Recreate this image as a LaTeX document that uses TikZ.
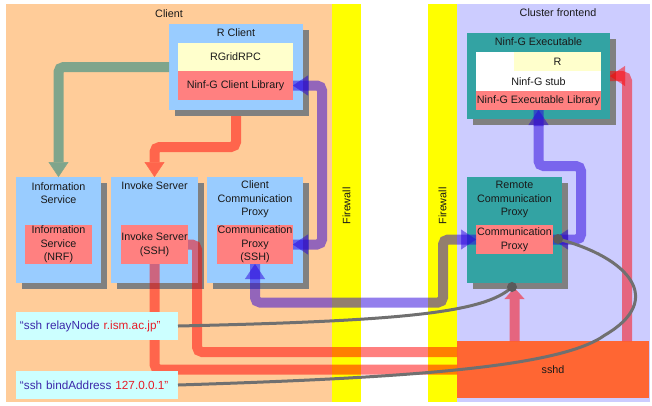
\documentclass[tikz,border=0pt]{standalone}
\usepackage{fontspec}
\setmainfont{Liberation Sans}
\usetikzlibrary{arrows.meta,shadows,calc}
\definecolor{peach}{RGB}{255,204,153}
\definecolor{fwyellow}{RGB}{255,255,0}
\definecolor{lav}{RGB}{204,204,255}
\definecolor{boxblue}{RGB}{153,204,255}
\definecolor{libred}{RGB}{255,128,128}
\definecolor{rpcyellow}{RGB}{255,255,204}
\definecolor{tealbox}{RGB}{51,163,163}
\definecolor{shadowgray}{RGB}{128,128,128}
\definecolor{sshdorange}{RGB}{255,102,51}
\definecolor{calloutcyan}{RGB}{204,255,255}
\definecolor{txtblue}{RGB}{60,40,170}
\definecolor{txtred}{RGB}{230,30,40}
\definecolor{flowblue}{RGB}{40,0,220}
\definecolor{flowgreen}{RGB}{0,128,128}
\definecolor{curvegray}{RGB}{112,112,112}
\definecolor{dotgray}{RGB}{90,90,90}
\definecolor{txt}{RGB}{25,25,25}
\tikzset{
  every node/.style={inner sep=0pt, outer sep=0pt, text=txt,
    font=\fontsize{10.8}{13.5}\selectfont},
  shadowed/.style={drop shadow={shadow xshift=6bp, shadow yshift=-6bp,
    fill=shadowgray, opacity=1}},
  outerbox/.style={fill=boxblue, shadowed},
  tealpanel/.style={fill=tealbox, shadowed},
  libbox/.style={fill=libred, align=center},
  title/.style={align=center},
  callout/.style={fill=calloutcyan, minimum width=162bp, minimum height=28bp,
    text width=154bp, align=left, font=\fontsize{11.8}{13}\selectfont},
  seethrough/.style={transparency group, opacity=.5},
  flow/.style={line width=10bp, rounded corners=5bp},
  tipend/.style={-{Triangle[length=15bp,width=20bp,line width=0.5bp]}},
  bluehead/.style={line width=10bp, draw=flowblue,
    -{Triangle[length=15bp,width=20bp,line width=0.5bp]}},
  redhead/.style={line width=10bp, draw=red,
    -{Triangle[length=15bp,width=20bp,line width=0.5bp]}},
  grey curve/.style={draw=curvegray, line width=3bp},
  enddot/.style={fill=dotgray}
}
\begin{document}
\begin{tikzpicture}[x=1bp,y=-1bp]
\useasboundingbox (0,0) rectangle (652,405);
% backgrounds
\fill[peach] (6,4) rectangle (332,402);
\fill[fwyellow] (332,4) rectangle (361,402);
\fill[fwyellow] (428,4) rectangle (457,402);
\fill[lav] (457,4) rectangle (650,402);
\node (clientlbl) at (169,14) {Client};
\node (clusterlbl) at (558,13) {Cluster frontend};
\node[rotate=90] (fw1) at (346.5,206) {Firewall};
\node[rotate=90] (fw2) at (442.5,206) {Firewall};
% R Client
\node[outerbox, minimum width=134bp, minimum height=86bp] (rclient) at (236,67) {};
\node (rclientT) at (236,33) {R Client};
\node[fill=rpcyellow, minimum width=115bp, minimum height=28bp] (rgrid) at (235.5,57) {RGridRPC};
\node[libbox, minimum width=115bp, minimum height=29bp] (clib) at (235.5,85.5) {Ninf-G Client Library};
% Information service
\node[outerbox, minimum width=85bp, minimum height=106bp] (info) at (58.5,230) {};
\node[title] (infoT) at (58.5,193) {Information\\Service};
\node[libbox, minimum width=67bp, minimum height=39bp] (infin) at (58.5,244.5) {Information\\Service\\(NRF)};
% Invoke server
\node[outerbox, minimum width=87bp, minimum height=106bp] (invoke) at (154.5,230) {};
\node[title] (invokeT) at (154.5,186) {Invoke Server};
\node[libbox, minimum width=67bp, minimum height=39bp] (invin) at (154.5,244.5) {Invoke Server\\(SSH)};
% Client communication proxy
\node[outerbox, minimum width=96bp, minimum height=106bp] (cproxy) at (255,230) {};
\node[title] (cproxyT) at (255,199.5) {Client\\Communication\\Proxy};
\node[libbox, minimum width=76bp, minimum height=39bp] (cpin) at (255,244.5) {Communication\\Proxy\\(SSH)};
% Ninf-G executable
\node[tealpanel, minimum width=143bp, minimum height=86bp] (exec) at (538.5,76) {};
\node (execT) at (538.5,42) {Ninf-G Executable};
\node[fill=white, minimum width=125bp, minimum height=58bp] (execin) at (538.5,81) {};
\node[fill=rpcyellow, minimum width=87bp, minimum height=19bp] (rbox) at (557.5,61.5) {R};
\node (stub) at (538.5,82) {Ninf-G stub};
\node[libbox, minimum width=125bp, minimum height=19bp] (exelib) at (538.5,100.5) {Ninf-G Executable Library};
% Remote communication proxy
\node[tealpanel, minimum width=95bp, minimum height=106bp] (remote) at (514.5,230) {};
\node[title] (remoteT) at (514.5,199.5) {Remote\\Communication\\Proxy};
\node[libbox, minimum width=77bp, minimum height=29bp] (rpin) at (514.5,239.5) {Communication\\Proxy};
% sshd
\node[fill=sshdorange, minimum width=192bp, minimum height=57bp] (sshd) at (553,369.5) {sshd};
% flows
\begin{scope}[seethrough]
\draw[flow, draw=flowgreen, tipend] (rclient.west) -| (info.north);
\end{scope}
\begin{scope}[seethrough]
\draw[flow, draw=red, tipend] ($(rclient.south)+(0,6)$) -- ++(0,31) -| (invoke.north);
\end{scope}
\begin{scope}[seethrough]
\draw[flow, draw=red] (invin.east) -- ++(9,0) |- ($(sshd.west)+(0,-17.5)$);
\end{scope}
\begin{scope}[seethrough]
\draw[flow, draw=red] (invin.south) |- (sshd.west);
\end{scope}
\begin{scope}[seethrough]
\draw[flow, draw=red, -{Triangle[length=11bp,width=20bp,line width=0.5bp]}] (sshd.north -| remote.south) -- ($(remote.south)+(0,5)$);
\end{scope}
\begin{scope}[seethrough]
\draw[flow, draw=red] ($(sshd.north east)+(-22,0)$) |- (exec.east);
\end{scope}
\begin{scope}[seethrough]
\draw[redhead] ($(exec.east)+(15,0)$) -- (exec.east);
\end{scope}
% blue bidirectional flows
\begin{scope}[seethrough]
\draw[flow, draw=flowblue] (cpin.east) -- ++(29,0) |- (clib.east);
\end{scope}
\begin{scope}[seethrough]
\draw[bluehead] ($(clib.east)+(15,0)$) -- (clib.east);
\end{scope}
\begin{scope}[seethrough]
\draw[bluehead] ($(cpin.east)+(15,0)$) -- (cpin.east);
\end{scope}
\begin{scope}[seethrough]
\draw[flow, draw=flowblue] (rpin.west) -- ++(-33,0) |- ($(cpin.south)+(0,38.5)$) -- (cpin.south);
\end{scope}
\begin{scope}[seethrough]
\draw[bluehead] ($(rpin.west)+(-15,0)$) -- (rpin.west);
\end{scope}
\begin{scope}[seethrough]
\draw[bluehead] ($(cpin.south)+(0,15)$) -- (cpin.south);
\end{scope}
\begin{scope}[seethrough]
\draw[flow, draw=flowblue] (rpin.east) -- ++(28,0) |- ($(exelib.south)+(0,56)$) -- (exelib.south);
\end{scope}
\begin{scope}[seethrough]
\draw[bluehead] ($(rpin.east)+(15,0)$) -- (rpin.east);
\end{scope}
\begin{scope}[seethrough]
\draw[bluehead] ($(exelib.south)+(0,16)$) -- (exelib.south);
\end{scope}
% callouts
\node[callout] (relay) at (97,326) {{\color{txtblue}“ssh relayNode }{\color{txtred}r.ism.ac.jp”}};
\node[callout] (bind) at (97,385) {{\color{txtblue}“ssh bindAddress }{\color{txtred}127.0.0.1”}};
% grey curves
\coordinate (dotA) at (512,287);
\coordinate (dotB) at (558,239);
\draw[grey curve] (relay.east) .. controls (400,321) and (485,313) .. (dotA);
\draw[grey curve] (bind.east) .. controls (400,378) and (560,368) .. (605,335)
   .. controls (665,300) and (630,258) .. (dotB);
\fill[enddot] (dotA) circle (5bp);
\fill[enddot] (dotB) circle (5bp);
\end{tikzpicture}
\end{document}
